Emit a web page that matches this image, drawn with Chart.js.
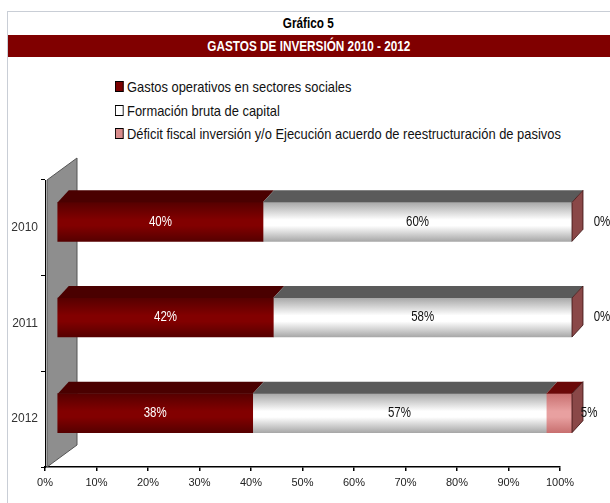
<!DOCTYPE html>
<html>
<head>
<meta charset="utf-8">
<script src="https://cdn.jsdelivr.net/npm/chart.js@4.4.0/dist/chart.umd.min.js"></script>
<style>
  body { margin: 0; background: #fff; }
  #wrap { position: relative; width: 610px; height: 503px; overflow: hidden; font-family: 'Liberation Sans', Arial, sans-serif; }
  #frame { position: absolute; left: 7px; top: 11px; right: -2px; bottom: -2px; border-left: 1px solid #c9ced6; border-top: 1px solid #c9ced6; }
  .estrecho { display: inline-block; transform: scaleX(0.84); transform-origin: center; white-space: nowrap; }
  #titulo { position: absolute; left: 7px; right: 0; top: 15px; text-align: center; font-weight: bold; font-size: 14px; color: #000; }
  #banner { position: absolute; left: 8px; right: 0; top: 35px; height: 22px; line-height: 22px; background: #800000; color: #fff; text-align: center; font-weight: bold; font-size: 14px; }
  #leyenda { position: absolute; left: 115px; top: 77px; font-size: 15px; color: #111; transform: scaleX(0.86); transform-origin: left top; }
  #leyenda div { height: 23.5px; line-height: 20px; white-space: nowrap; }
  #leyenda span { display: inline-block; width: 8px; height: 9px; border: 1px solid #000; margin-right: 4px; vertical-align: 0px; }
  canvas { position: absolute; left: 0; top: 0; }
</style>
</head>
<body>
<div id="wrap">
  <div id="frame"></div>
  <div id="titulo"><span class="estrecho">Gráfico 5</span></div>
  <div id="banner"><span class="estrecho">GASTOS DE INVERSIÓN 2010 - 2012</span></div>
  <div id="leyenda"></div>
  <canvas id="grafico" width="610" height="503"></canvas>
</div>
<script>
const anios = ['2010', '2011', '2012'];
const series = [
    'Gastos operativos en sectores sociales',
    'Formación bruta de capital',
    'Déficit fiscal inversión y/o Ejecución acuerdo de reestructuración de pasivos'
];
const gastosOperativos = [40, 42, 38];
const formacionBruta = [60, 58, 57];
const deficitFiscal = [0, 0, 5];
const ticksX = [0, 10, 20, 30, 40, 50, 60, 70, 80, 90, 100];

const FUENTE = "'Liberation Sans', Arial, sans-serif";

// colores de cada serie: frente (borde, centro), cara superior, etiqueta
const estilos = [
    { borde: '#560000', centro: '#820000', arriba: '#4a0000', texto: '#ffffff', leyenda: '#7a0000' },
    { borde: '#a8a8a8', centro: '#ffffff', arriba: '#5a5a5a', texto: '#111111', leyenda: '#ffffff' },
    { borde: '#c87070', centro: '#e8a0a0', arriba: '#6a0808', texto: '#111111', leyenda: '#d88c8c' }
];

const PROF_X = 11;   // profundidad 3D
const PROF_Y = -12;
const DESP_X = 12;   // desplazamiento del frente respecto al eje
const DESP_Y = -6;

// leyenda en HTML
const leyenda = document.getElementById('leyenda');
series.forEach((s, i) => {
    const fila = document.createElement('div');
    const cuadro = document.createElement('span');
    cuadro.style.background = estilos[i].leyenda;
    fila.appendChild(cuadro);
    fila.appendChild(document.createTextNode(s));
    leyenda.appendChild(fila);
});

function gradiente(ctx) {
    const chart = ctx.chart;
    const est = estilos[ctx.datasetIndex];
    if (!chart.chartArea) return est.centro;
    const y = chart.scales.y.getPixelForValue(ctx.dataIndex);
    const h = 39;
    const g = chart.ctx.createLinearGradient(0, y - h / 2, 0, y + h / 2);
    g.addColorStop(0, est.borde);
    g.addColorStop(0.45, est.centro);
    g.addColorStop(0.6, est.centro);
    g.addColorStop(1, est.borde);
    return g;
}

// texto estrecho (tipo Arial Narrow)
function textoEstrecho(ctx, txt, x, y) {
    ctx.save();
    ctx.translate(x, y);
    ctx.scale(0.82, 1);
    ctx.fillText(txt, 0, 0);
    ctx.restore();
}

const pared3D = {
    id: 'pared3D',
    beforeDatasetsDraw(chart) {
        const { ctx, chartArea } = chart;
        const l = chartArea.left, t = chartArea.top, b = chartArea.bottom;
        ctx.save();
        ctx.beginPath();
        ctx.moveTo(l + 2, t);
        ctx.lineTo(l + 32, t - 22);
        ctx.lineTo(l + 32, b - 22);
        ctx.lineTo(l + 2, b);
        ctx.closePath();
        ctx.fillStyle = '#8e8e8e';
        ctx.fill();
        ctx.strokeStyle = '#555';
        ctx.lineWidth = 1;
        ctx.stroke();
        ctx.restore();
        ctx.save();
        ctx.translate(DESP_X, DESP_Y);
    },
    afterDatasetsDraw(chart) {
        const ctx = chart.ctx;
        chart.data.datasets.forEach((ds, di) => {
            const meta = chart.getDatasetMeta(di);
            meta.data.forEach((bar) => {
                const p = bar.getProps(['x', 'y', 'base', 'height'], true);
                const x0 = Math.min(p.base, p.x), x1 = Math.max(p.base, p.x);
                const top = p.y - p.height / 2, bot = p.y + p.height / 2;
                // cara superior
                if (x1 > x0) {
                    ctx.beginPath();
                    ctx.moveTo(x0, top);
                    ctx.lineTo(x1, top);
                    ctx.lineTo(x1 + PROF_X, top + PROF_Y);
                    ctx.lineTo(x0 + PROF_X, top + PROF_Y);
                    ctx.closePath();
                    ctx.fillStyle = estilos[di].arriba;
                    ctx.fill();
                }
                // cara lateral de la ultima serie
                if (di === chart.data.datasets.length - 1) {
                    ctx.beginPath();
                    ctx.moveTo(x1, top);
                    ctx.lineTo(x1 + PROF_X, top + PROF_Y);
                    ctx.lineTo(x1 + PROF_X, bot + PROF_Y);
                    ctx.lineTo(x1, bot);
                    ctx.closePath();
                    ctx.fillStyle = '#8a4848';
                    ctx.fill();
                    ctx.strokeStyle = '#3a1010';
                    ctx.lineWidth = 0.8;
                    ctx.stroke();
                }
            });
        });
        // etiquetas de valores
        ctx.font = '14px ' + FUENTE;
        ctx.textBaseline = 'middle';
        ctx.textAlign = 'center';
        chart.data.datasets.forEach((ds, di) => {
            const meta = chart.getDatasetMeta(di);
            meta.data.forEach((bar, i) => {
                const p = bar.getProps(['x', 'y', 'base'], true);
                let cx = (p.x + p.base) / 2;
                if (di === 2) cx += 30;
                ctx.fillStyle = estilos[di].texto;
                textoEstrecho(ctx, ds.data[i] + '%', cx, p.y);
            });
        });
        ctx.restore();
    }
};

new Chart(document.getElementById('grafico'), {
    type: 'bar',
    data: {
        labels: anios,
        datasets: [
            { label: series[0], data: gastosOperativos },
            { label: series[1], data: formacionBruta },
            { label: series[2], data: deficitFiscal }
        ].map(d => Object.assign(d, {
            backgroundColor: gradiente,
            borderWidth: 0,
            barThickness: 39
        }))
    },
    options: {
        indexAxis: 'y',
        responsive: false,
        animation: false,
        layout: { padding: { top: 180, right: 50, left: 0, bottom: 0 } },
        plugins: { legend: { display: false }, tooltip: { enabled: false } },
        scales: {
            x: {
                stacked: true,
                min: 0,
                max: 100,
                afterBuildTicks: scale => { scale.ticks = ticksX.map(v => ({ value: v })); },
                afterFit: scale => { scale.height = 36; },
                border: { display: true, color: '#000', width: 1.5 },
                grid: { drawOnChartArea: false, color: '#000', tickLength: 4, lineWidth: 1.5 },
                ticks: { color: '#222', font: { family: FUENTE, size: 11 }, padding: 5, callback: v => v + '%' }
            },
            y: {
                stacked: true,
                afterFit: scale => { scale.width = 45; },
                border: { display: true, color: '#000', width: 1 },
                grid: { drawOnChartArea: false, color: '#000', tickLength: 4, offset: true },
                ticks: { color: '#333', font: { family: FUENTE, size: 12 }, padding: 3 }
            }
        }
    },
    plugins: [pared3D]
});
</script>
</body>
</html>
